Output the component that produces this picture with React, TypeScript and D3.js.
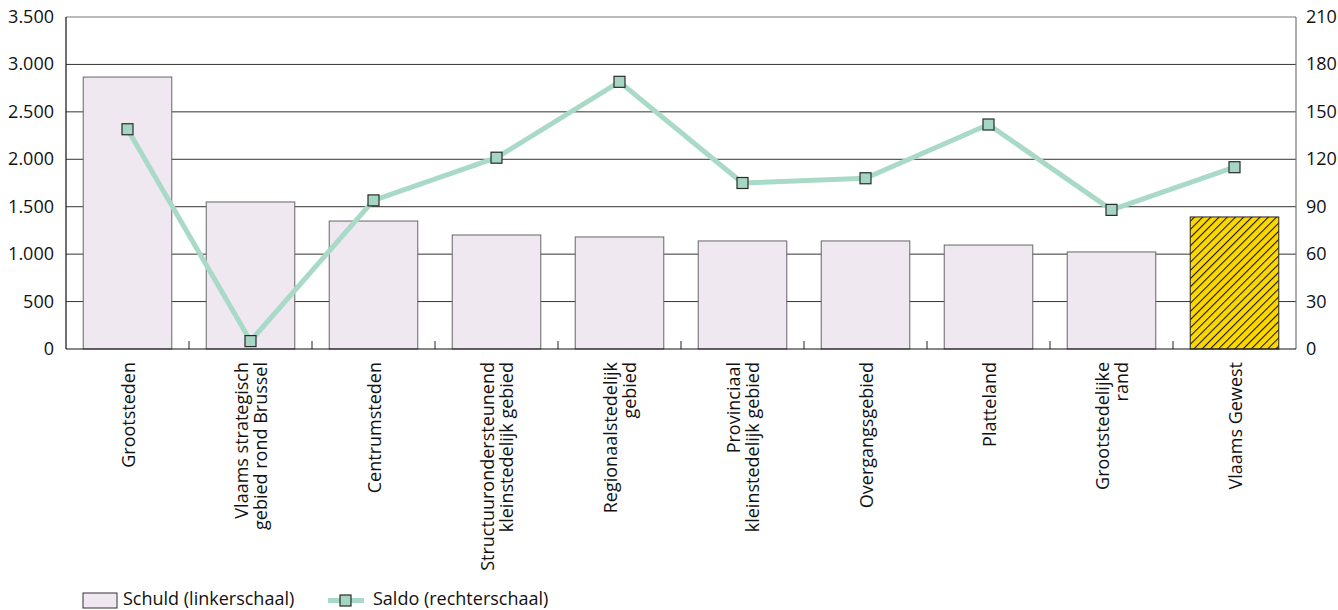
import React from "react";
import * as d3 from "d3";

const categories: string[][] = [
  ["Grootsteden"],
  ["Vlaams strategisch", "gebied rond Brussel"],
  ["Centrumsteden"],
  ["Structuurondersteunend", "kleinstedelijk gebied"],
  ["Regionaalstedelijk", "gebied"],
  ["Provinciaal", "kleinstedelijk gebied"],
  ["Overgangsgebied"],
  ["Platteland"],
  ["Grootstedelijke", "rand"],
  ["Vlaams Gewest"],
];
const schuld = [2867, 1550, 1349, 1202, 1181, 1139, 1139, 1096, 1023, 1392];
const saldo = [139, 5, 94, 121, 169, 105, 108, 142, 88, 115];
const leftTicks = [0, 500, 1000, 1500, 2000, 2500, 3000, 3500];
const rightTicks = [0, 30, 60, 90, 120, 150, 180, 210];
const legendLabels = ["Schuld (linkerschaal)", "Saldo (rechterschaal)"];

const W = 1338, H = 610;
const L = 66, R = 1296, T = 17, B = 349;
const FONT = "'Open Sans', 'Noto Sans', sans-serif";
const FS = 18;
const fmt = (v: number) => d3.format(",")(v).replace(/,/g, ".");

export default function App() {
  const idx = categories.map((_, i) => i);
  const x = d3.scaleBand<number>().domain(idx).range([L, R]).paddingInner(0.28).paddingOuter(0.14);
  const band = d3.scaleBand<number>().domain(idx).range([L, R]);
  const yL = d3.scaleLinear().domain([0, 3500]).range([B, T]);
  const yR = d3.scaleLinear().domain([0, 210]).range([B, T]);
  const line = d3.line<number>().x((_, i) => band(i)! + band.bandwidth() / 2).y((d) => yR(d));
  const lineColor = "#a9dac7";
  const ms = 11;

  return (
    <svg width={W} height={H} style={{ position: "absolute", left: 0, top: 0, fontFamily: FONT }}>
      <defs>
        <pattern id="hatch" width={5.8} height={5.8} patternUnits="userSpaceOnUse" patternTransform="rotate(45)">
          <rect width={5.8} height={5.8} fill="#fdd800" />
          <line x1={0} y1={0} x2={0} y2={5.8} stroke="#111" strokeWidth={2.1} />
        </pattern>
      </defs>
      {leftTicks.slice(1).map((t) => (
        <line key={t} x1={L} x2={R} y1={yL(t)} y2={yL(t)} stroke={t === 3500 ? "#777" : "#333"} strokeWidth={1} />
      ))}
      <line x1={R} x2={R} y1={T} y2={B} stroke="#777" strokeWidth={1.2} />
      {schuld.map((v, i) => (
        <rect
          key={i}
          x={x(i)!}
          y={yL(v)}
          width={x.bandwidth()}
          height={B - yL(v)}
          fill={i === 9 ? "url(#hatch)" : "#efe8f1"}
          stroke={i === 9 ? "#222" : "#666"}
          strokeWidth={1}
        />
      ))}
      {idx.slice(1).map((i) => (
        <line key={i} x1={band(i)!} x2={band(i)!} y1={B} y2={B - 8} stroke="#222" strokeWidth={1} />
      ))}
      <line x1={L} x2={L} y1={T} y2={B} stroke="#111" strokeWidth={1.2} />
      <line x1={L} x2={R} y1={B} y2={B} stroke="#111" strokeWidth={1.2} />
      <path d={line(saldo)!} fill="none" stroke={lineColor} strokeWidth={5} strokeLinejoin="round" />
      {saldo.map((v, i) => (
        <rect
          key={i}
          x={band(i)! + band.bandwidth() / 2 - ms / 2}
          y={yR(v) - ms / 2}
          width={ms}
          height={ms}
          fill="#a4d6c3"
          stroke="#2a2a2a"
          strokeWidth={1.2}
        />
      ))}
      {leftTicks.map((t) => (
        <text key={t} x={54} y={yL(t) + 6} textAnchor="end" fontSize={FS} fill="#111">
          {fmt(t)}
        </text>
      ))}
      {rightTicks.map((t) => (
        <text key={t} x={1306} y={yR(t) + 6} textAnchor="start" fontSize={FS} fill="#111">
          {t}
        </text>
      ))}
      {categories.map((lines, i) => {
        const cx = band(i)! + band.bandwidth() / 2;
        const lh = 19;
        return (
          <g key={i}>
            {lines.map((s, j) => {
              const off = (j - (lines.length - 1) / 2) * lh;
              const bx = cx + off + 7;
              return (
                <text
                  key={j}
                  transform={`translate(${bx},362) rotate(-90)`}
                  textAnchor="end"
                  fontSize={FS}
                  fill="#111"
                >
                  {s}
                </text>
              );
            })}
          </g>
        );
      })}
      <rect x={83} y={593} width={34} height={15} fill="#efe8f1" stroke="#333" strokeWidth={1} />
      <text x={123} y={605} fontSize={FS} fill="#111">{legendLabels[0]}</text>
      <line x1={328} x2={364} y1={600.5} y2={600.5} stroke={lineColor} strokeWidth={5} />
      <rect x={340} y={595} width={ms} height={ms} fill="#a4d6c3" stroke="#2a2a2a" strokeWidth={1.2} />
      <text x={373} y={605} fontSize={FS} fill="#111">{legendLabels[1]}</text>
    </svg>
  );
}
